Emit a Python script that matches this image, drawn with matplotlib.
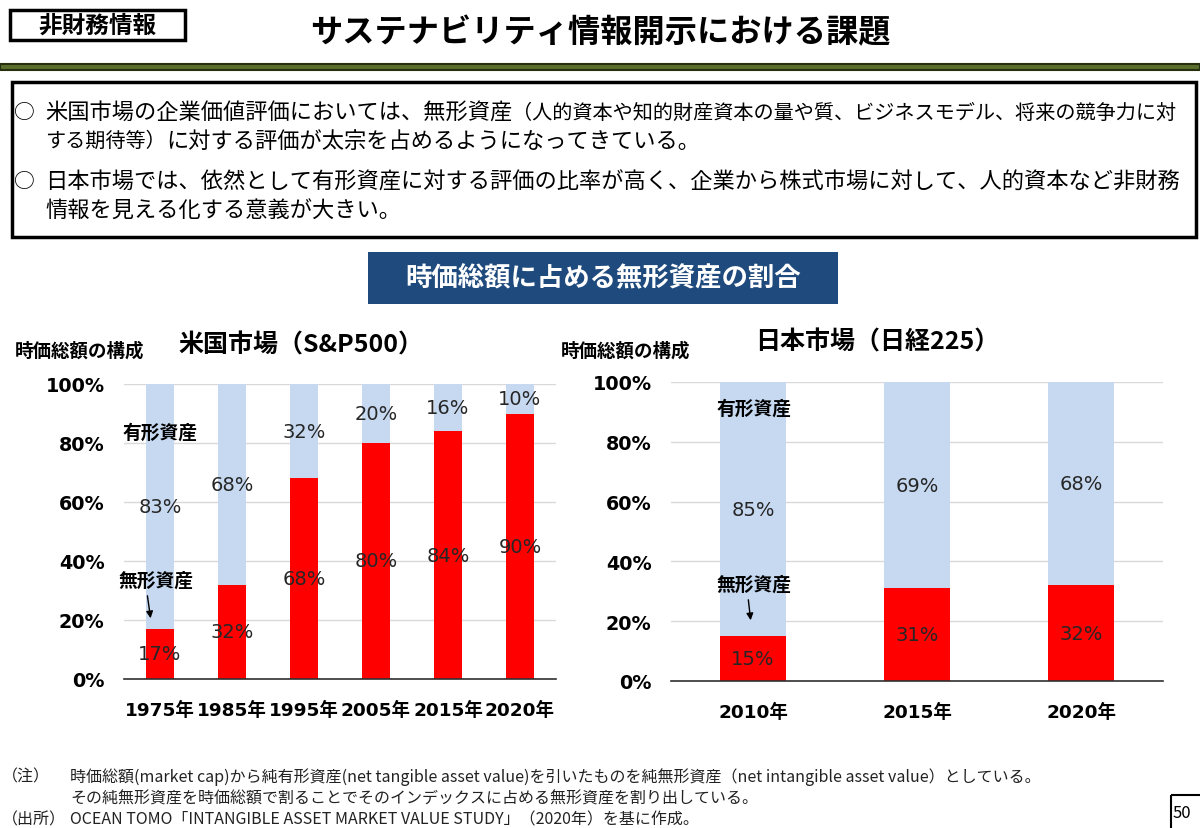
import numpy as np
import matplotlib
matplotlib.use('Agg')
import matplotlib.pyplot as plt
from matplotlib.patches import Rectangle

plt.rcParams['font.family'] = ['Noto Sans CJK JP', 'DejaVu Sans']

# data
us_years = ['1975年', '1985年', '1995年', '2005年', '2015年', '2020年']
us_intangible = [17, 32, 68, 80, 84, 90]
us_tangible = [83, 68, 32, 20, 16, 10]

jp_years = ['2010年', '2015年', '2020年']
jp_intangible = [15, 31, 32]
jp_tangible = [85, 69, 68]

RED = '#ff0000'
LIGHT = '#c6d9f1'
W, H = 1200, 829

fig = plt.figure(figsize=(12, 8.29), dpi=100)
fig.patch.set_facecolor('white')


def box(x0, y0, x1, y1):
    # pixel box (top-left origin) -> figure fraction rect
    return [x0 / W, 1 - y1 / H, (x1 - x0) / W, (y1 - y0) / H]


def draw_chart(ax, cats, intang, tang, width):
    x = np.arange(len(cats))
    b1 = ax.bar(x, intang, width=width, color=RED, zorder=2)
    b2 = ax.bar(x, tang, bottom=intang, width=width, color=LIGHT, zorder=2)
    for bars, vals in ((b1, intang), (b2, tang)):
        ax.bar_label(bars, labels=[f'{v}%' for v in vals], label_type='center',
                     fontsize=14, color='#262626', family='DejaVu Sans')
    ax.set_xlim(-0.5, len(cats) - 0.5)
    ax.set_ylim(0, 100)
    ax.set_yticks(range(0, 101, 20))
    ax.set_yticklabels([f'{v}%' for v in range(0, 101, 20)],
                       family='DejaVu Sans', fontweight='bold', fontsize=13.8)
    ax.set_xticks(x)
    ax.set_xticklabels(cats, family=['DejaVu Sans', 'Noto Sans CJK JP'],
                       fontweight='bold', fontsize=13.3)
    ax.tick_params(axis='y', length=0, pad=14)
    ax.tick_params(axis='x', length=0, pad=16)
    ax.yaxis.grid(True, color='#d9d9d9', lw=1)
    ax.set_axisbelow(True)
    for s in ('left', 'right', 'top'):
        ax.spines[s].set_visible(False)
    ax.spines['bottom'].set_color('#303030')
    ax.spines['bottom'].set_linewidth(1.2)
    ax.set_facecolor('none')


ax1 = fig.add_axes(box(124, 385, 556, 680))
draw_chart(ax1, us_years, us_intangible, us_tangible, 0.39)

ax2 = fig.add_axes(box(671, 383, 1163, 682))
draw_chart(ax2, jp_years, jp_intangible, jp_tangible, 0.40)

# slide decorations drawn on an overlay in pixel coordinates
ov = fig.add_axes([0, 0, 1, 1], zorder=5)
ov.set_xlim(0, W)
ov.set_ylim(H, 0)
ov.axis('off')
ov.patch.set_alpha(0)

# header
ov.add_patch(Rectangle((10, 11), 175, 30, fill=False, ec='black', lw=2.5))
ov.text(97, 26, '非財務情報', ha='center', va='center', fontsize=17, fontweight='bold')
ov.text(600, 33, 'サステナビリティ情報開示における課題', ha='center', va='center',
        fontsize=23.2, fontweight='bold')
ov.add_patch(Rectangle((0, 65), W, 6, fc='#5b6e2c', ec='#26300f', lw=1.5))

# summary box
ov.add_patch(Rectangle((12, 83), 1184, 155, fill=False, ec='black', lw=2.5))
big, small = 16.0, 14.5
px_big, px_small = big * 100 / 72, small * 100 / 72
x0 = 45
ov.text(24, 113, '○', ha='center', va='center', fontsize=15)
s1 = '米国市場の企業価値評価においては、無形資産'
ov.text(x0, 113, s1, ha='left', va='center', fontsize=big)
ov.text(x0 + len(s1) * px_big, 113, '（人的資本や知的財産資本の量や質、ビジネスモデル、将来の競争力に対',
        ha='left', va='center', fontsize=small)
s2 = 'する期待等）'
ov.text(x0, 141, s2, ha='left', va='center', fontsize=small)
ov.text(x0 + len(s2) * px_small, 141, 'に対する評価が太宗を占めるようになってきている。',
        ha='left', va='center', fontsize=big)
ov.text(24, 182, '○', ha='center', va='center', fontsize=15)
ov.text(x0, 182, '日本市場では、依然として有形資産に対する評価の比率が高く、企業から株式市場に対して、人的資本など非財務',
        ha='left', va='center', fontsize=big)
ov.text(x0, 211, '情報を見える化する意義が大きい。', ha='left', va='center', fontsize=big)

# banner
ov.add_patch(Rectangle((368, 253), 470, 52, fc='#1f4a7d', ec='none'))
ov.text(603, 279, '時価総額に占める無形資産の割合', ha='center', va='center',
        fontsize=19, fontweight='bold', color='white')

# chart titles
ov.text(15, 351, '時価総額の構成', ha='left', va='center', fontsize=13.3, fontweight='bold')
ov.text(178, 345, '米国市場（S&P500）', ha='left', va='center', fontsize=18, fontweight='bold')
ov.text(561, 351, '時価総額の構成', ha='left', va='center', fontsize=13.3, fontweight='bold')
ov.text(877, 342, '日本市場（日経225）', ha='center', va='center', fontsize=18, fontweight='bold')

# in-chart annotations
ann = 13.5
ov.text(160, 433, '有形資産', ha='center', va='center', fontsize=ann, fontweight='bold')
ov.text(156, 581, '無形資産', ha='center', va='center', fontsize=ann, fontweight='bold')
ov.annotate('', xy=(151, 622), xytext=(147, 594),
            arrowprops=dict(arrowstyle='-|>', color='black', lw=1, mutation_scale=10))
ov.text(754, 409, '有形資産', ha='center', va='center', fontsize=ann, fontweight='bold')
ov.text(754, 585, '無形資産', ha='center', va='center', fontsize=ann, fontweight='bold')
ov.annotate('', xy=(751, 624), xytext=(748, 598),
            arrowprops=dict(arrowstyle='-|>', color='black', lw=1, mutation_scale=10))

# footnotes
fn = 11.5
ov.text(2, 777, '（注）', ha='left', va='center', fontsize=fn, color='#222222')
ov.text(70, 777, '時価総額(market cap)から純有形資産(net tangible asset value)を引いたものを純無形資産（net intangible asset value）としている。',
        ha='left', va='center', fontsize=fn, color='#222222')
ov.text(70, 799, 'その純無形資産を時価総額で割ることでそのインデックスに占める無形資産を割り出している。',
        ha='left', va='center', fontsize=fn, color='#222222')
ov.text(2, 820, '（出所）', ha='left', va='center', fontsize=fn, color='#222222')
ov.text(70, 820, 'OCEAN TOMO「INTANGIBLE ASSET MARKET VALUE STUDY」（2020年）を基に作成。',
        ha='left', va='center', fontsize=fn, color='#222222')

# page number
ov.add_patch(Rectangle((1171, 796), 40, 40, fill=False, ec='black', lw=1.5))
ov.text(1173, 814, '50', ha='left', va='center', fontsize=12)

fig.savefig('out.png', dpi=100)
